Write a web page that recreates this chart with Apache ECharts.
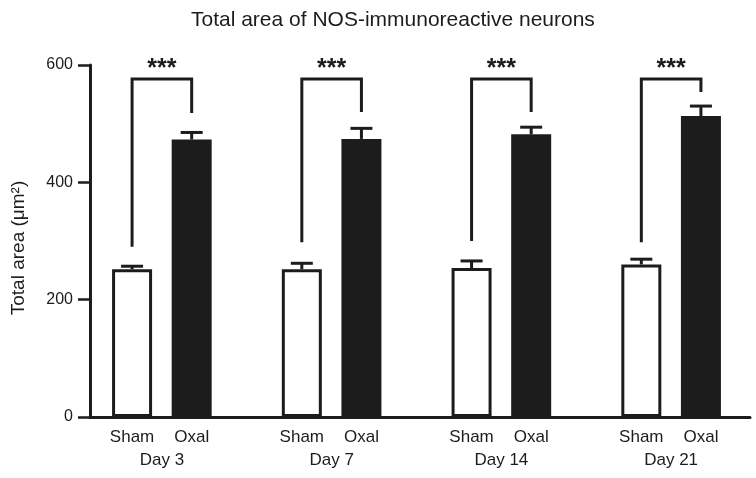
<!DOCTYPE html>
<html>
<head>
<meta charset="utf-8">
<script src="https://cdn.jsdelivr.net/npm/echarts@6/dist/echarts.min.js"></script>
<style>
html,body{margin:0;padding:0;background:#fff;}
#chart{width:756px;height:478px;}
</style>
</head>
<body>
<div id="chart"></div>
<script>
// ---- Data ----
var categories = ['Day 3', 'Day 7', 'Day 14', 'Day 21'];
var groups = ['Sham', 'Oxal'];
var shamMean = [252, 252, 254, 260];
var shamErr = [5, 10, 12, 9];
var oxalMean = [473, 474, 482, 513];
var oxalErr = [12, 18, 12, 17];
var sigStars = ['***', '***', '***', '***'];
var bracketTop = [576, 576, 576, 576];
var bracketLeftEnd = [290, 298, 300, 298];
var bracketRightEnd = [518, 520, 520, 554];
var yTicks = [0, 200, 400, 600];

// ---- Styles ----
var INK = '#1c1c1c';
var FONT = '"Liberation Sans", Arial, Helvetica, sans-serif';
var BAR_W = 40;
var BAR_GAP = 0.49;
var HALF = (BAR_W + BAR_W * BAR_GAP) / 2;

var chart = echarts.init(document.getElementById('chart'));

function errRender(sign, errArr, name) {
  return function (params, api) {
    var i = api.value(0);
    var m = api.value(1);
    var e = api.value(2);
    var c = api.coord([i, m]);
    var x = c[0] + sign * HALF;
    var yTop = api.coord([i, m + e])[1];
    var y0 = api.coord([i, 0])[1];
    var st = { stroke: INK, lineWidth: 3 };
    return {
      type: 'group',
      children: [
        { type: 'line', shape: { x1: x, y1: c[1], x2: x, y2: yTop }, style: st },
        { type: 'line', shape: { x1: x - 11, y1: yTop, x2: x + 11, y2: yTop }, style: st },
        { type: 'text', style: { x: x, y: y0 + 12, text: name, fill: INK, font: '17px ' + FONT, align: 'center', verticalAlign: 'top' } }
      ]
    };
  };
}

function bracketRender(params, api) {
  var i = api.value(0);
  var top = api.coord([i, api.value(1)]);
  var yl = api.coord([i, api.value(2)])[1];
  var yr = api.coord([i, api.value(3)])[1];
  var xl = top[0] - HALF, xr = top[0] + HALF;
  return {
    type: 'group',
    children: [
      { type: 'polyline', shape: { points: [[xl, yl], [xl, top[1]], [xr, top[1]], [xr, yr]] },
        style: { stroke: INK, lineWidth: 3, fill: null } },
      { type: 'text', style: { x: top[0], y: top[1] - 10, text: sigStars[i], fill: INK,
        font: 'bold 25px ' + FONT, align: 'center', verticalAlign: 'middle' } }
    ]
  };
}

var option = {
  backgroundColor: '#ffffff',
  animation: false,
  title: {
    text: 'Total area of NOS-immunoreactive neurons',
    left: 186, top: 5,
    textStyle: { fontFamily: FONT, fontSize: 21, fontWeight: 'normal', color: INK }
  },
  grid: [
    { left: 90, right: 6, top: 65, bottom: 61 },
    { left: 77, width: 690, top: 65, bottom: 61 }
  ],
  xAxis: [
    { gridIndex: 0, type: 'value', min: 0, max: 1,
      axisLine: { show: true, lineStyle: { color: INK, width: 3 } },
      axisTick: { show: false }, axisLabel: { show: false }, splitLine: { show: false } },
    { gridIndex: 1, type: 'category', data: categories,
      axisLine: { show: false }, axisTick: { show: false },
      axisLabel: { margin: 35, fontFamily: FONT, fontSize: 17, color: INK } }
  ],
  yAxis: [
    { gridIndex: 0, type: 'value', min: 0, max: 600, interval: 200,
      name: 'Total area (μm²)', nameLocation: 'middle', nameGap: 62,
      nameTextStyle: { fontFamily: FONT, fontSize: 19, color: INK, padding: [0, 14, 0, 0] },
      axisLine: { show: true, lineStyle: { color: INK, width: 3 } },
      axisTick: { show: true, inside: false, length: 12, lineStyle: { color: INK, width: 2.5 } },
      axisLabel: { margin: 17, fontFamily: FONT, fontSize: 16, color: INK,
        formatter: function (v) { return yTicks.indexOf(v) >= 0 ? String(v) : ''; } },
      splitLine: { show: false } },
    { gridIndex: 1, type: 'value', min: 0, max: 600, show: false }
  ],
  series: [
    { name: groups[0], type: 'bar', xAxisIndex: 1, yAxisIndex: 1, data: shamMean,
      barWidth: BAR_W, barGap: (BAR_GAP * 100) + '%',
      itemStyle: { color: '#ffffff', borderColor: INK, borderWidth: 3 }, z: 2 },
    { name: groups[1], type: 'bar', xAxisIndex: 1, yAxisIndex: 1, data: oxalMean,
      barWidth: BAR_W, barGap: (BAR_GAP * 100) + '%',
      itemStyle: { color: INK }, z: 2 },
    { type: 'custom', xAxisIndex: 1, yAxisIndex: 1, z: 3,
      renderItem: errRender(-1, shamErr, groups[0]),
      data: shamMean.map(function (v, i) { return [i, v, shamErr[i]]; }) },
    { type: 'custom', xAxisIndex: 1, yAxisIndex: 1, z: 3,
      renderItem: errRender(1, oxalErr, groups[1]),
      data: oxalMean.map(function (v, i) { return [i, v, oxalErr[i]]; }) },
    { type: 'custom', xAxisIndex: 1, yAxisIndex: 1, z: 3,
      renderItem: bracketRender,
      data: categories.map(function (c, i) { return [i, bracketTop[i], bracketLeftEnd[i], bracketRightEnd[i]]; }) }
  ]
};
chart.setOption(option);
</script>
</body>
</html>
